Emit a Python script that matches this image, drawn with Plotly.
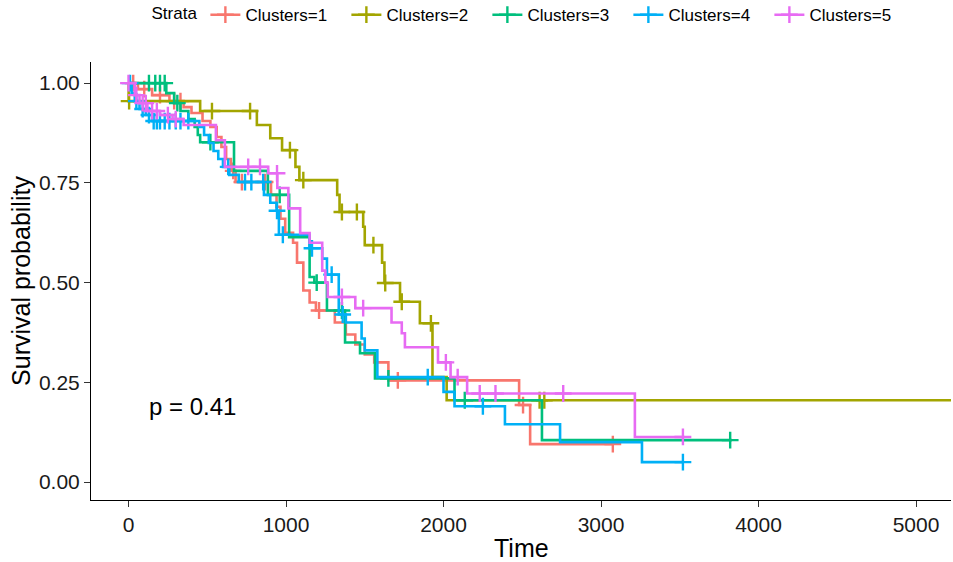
import numpy as np
import plotly.graph_objects as go

# ---------------- data ----------------
strata = ["Clusters=1", "Clusters=2", "Clusters=3", "Clusters=4", "Clusters=5"]
colors = ["#F8766D", "#A3A500", "#00BF7D", "#00B0F6", "#E76BF3"]

c1_time = [0, 60, 150, 260, 350, 400, 470, 520, 560, 590, 620, 650, 680, 905, 940, 965, 995, 1045, 1070,
           1110, 1150, 1190, 1310, 1380, 1440, 1500, 1560, 1650, 2480, 2550, 3080]
c1_surv = [1.0, 0.985, 0.97, 0.955, 0.94, 0.925, 0.905, 0.89, 0.865, 0.84, 0.81, 0.78, 0.752, 0.72, 0.69,
           0.66, 0.625, 0.60, 0.55, 0.48, 0.45, 0.43, 0.40, 0.37, 0.345, 0.32, 0.30, 0.255, 0.193, 0.095, 0.095]
c1_cens = [30, 100, 200, 290, 330, 665, 720, 867, 1210, 1710, 2505, 3075]

c2_time = [0, 1, 455, 815, 900, 975, 1060, 1085, 1325, 1340, 1490, 1500, 1610, 1625, 1724, 1850, 1930, 2020, 5300]
c2_surv = [1.0, 0.955, 0.93, 0.895, 0.862, 0.832, 0.79, 0.757, 0.72, 0.677, 0.64, 0.594, 0.55, 0.499,
           0.452, 0.398, 0.263, 0.205, 0.205]
c2_cens = [4, 530, 772, 1025, 1110, 1355, 1450, 1555, 1630, 1735, 1920, 2610, 2640]

c3_time = [0, 240, 290, 330, 380, 420, 440, 455, 670, 885, 1020, 1150, 1180, 1260, 1375, 1470, 1565,
           2070, 2625, 3830]
c3_surv = [1.0, 0.975, 0.95, 0.93, 0.91, 0.89, 0.87, 0.852, 0.78, 0.72, 0.614, 0.514, 0.50, 0.43, 0.35,
           0.323, 0.26, 0.205, 0.105, 0.105]
c3_cens = [130, 170, 200, 230, 310, 520, 960, 1195, 1355, 1650, 2135, 3820]

c4_time = [0, 20, 40, 70, 110, 150, 450, 480, 510, 540, 570, 600, 640, 700, 860, 900, 940, 955, 1150,
           1230, 1260, 1335, 1380, 1480, 1500, 1580, 2000, 2070, 2390, 2740, 3260, 3520]
c4_surv = [1.0, 0.975, 0.955, 0.935, 0.92, 0.905, 0.89, 0.87, 0.85, 0.83, 0.81, 0.79, 0.77, 0.752, 0.72,
           0.70, 0.68, 0.62, 0.586, 0.56, 0.52, 0.42, 0.40, 0.36, 0.33, 0.263, 0.226, 0.19, 0.145, 0.10,
           0.05, 0.05]
c4_cens = [10, 50, 90, 130, 160, 180, 200, 230, 260, 300, 330, 380, 633, 740, 780, 855, 943, 980, 1165,
           1290, 1360, 1900, 2250, 3520]

c5_time = [0, 40, 70, 120, 200, 280, 350, 555, 612, 887, 945, 1015, 1090, 1150, 1230, 1250, 1265, 1440,
           1670, 1735, 1755, 1965, 2045, 2150, 3215, 3530]
c5_surv = [1.0, 0.97, 0.95, 0.93, 0.92, 0.91, 0.895, 0.857, 0.79, 0.774, 0.737, 0.686, 0.624, 0.60, 0.53,
           0.50, 0.464, 0.436, 0.40, 0.373, 0.338, 0.30, 0.263, 0.222, 0.113, 0.113]
c5_cens = [0, 50, 90, 110, 150, 180, 250, 300, 760, 835, 943, 1355, 1490, 2015, 2090, 2230, 2330, 2760, 3520]

p_text = "p = 0.41"
x_title = "Time"
y_title = "Survival probability"
y_ticks = [0.0, 0.25, 0.5, 0.75, 1.0]
x_ticks = [0, 1000, 2000, 3000, 4000, 5000]

times = [c1_time, c2_time, c3_time, c4_time, c5_time]
survs = [c1_surv, c2_surv, c3_surv, c4_surv, c5_surv]
cens = [c1_cens, c2_cens, c3_cens, c4_cens, c5_cens]

FONT = "Liberation Sans, Arial, sans-serif"
LW = 2.6

fig = go.Figure()
for name, col, t, s, c in zip(strata, colors, times, survs, cens):
    t_arr = np.array(t)
    s_arr = np.array(s)
    idx = np.searchsorted(t_arr, np.array(c), side="right") - 1
    c_surv = s_arr[idx]
    fig.add_trace(go.Scatter(x=t, y=s, mode="lines", line=dict(color=col, width=LW, shape="hv"),
                             showlegend=False, hoverinfo="skip"))
    fig.add_trace(go.Scatter(x=c, y=c_surv, mode="markers",
                             marker=dict(symbol="cross-thin", size=12, color=col,
                                         line=dict(color=col, width=2.4)),
                             showlegend=False, hoverinfo="skip"))
    # legend key
    fig.add_trace(go.Scatter(x=[None], y=[None], mode="lines+markers", name=name,
                             line=dict(color=col, width=LW),
                             marker=dict(symbol="cross-thin", size=12, color=col,
                                         line=dict(color=col, width=2.4))))

fig.add_annotation(x=117, y=0.19, xref="x", yref="y", text=p_text, showarrow=False,
                   xanchor="left", yanchor="middle", font=dict(size=24, color="black", family=FONT))
fig.add_annotation(x=0.5, y=-0.109, xref="paper", yref="paper", text=x_title, showarrow=False,
                   xanchor="center", yanchor="middle", font=dict(size=25, color="black", family=FONT))
fig.add_annotation(x=-0.0815, y=0.5, xref="paper", yref="paper", text=y_title, showarrow=False,
                   textangle=-90, xanchor="center", yanchor="middle",
                   font=dict(size=25, color="black", family=FONT))

fig.update_layout(
    width=953, height=562,
    margin=dict(l=91, r=2, t=62, b=62, autoexpand=False),
    paper_bgcolor="white", plot_bgcolor="white",
    font=dict(family=FONT, color="black"),
    legend=dict(orientation="h", x=0.068, xanchor="left", y=1.107, yanchor="middle",
                title=dict(text="Strata", side="left", font=dict(size=17)),
                font=dict(size=17), entrywidth=96, entrywidthmode="pixels",
                bgcolor="rgba(0,0,0,0)"),
)
fig.update_xaxes(range=[-238, 5222], tickvals=x_ticks, ticktext=[str(v) for v in x_ticks],
                 automargin=False,
                 showgrid=False, zeroline=False, showline=True, linecolor="black", linewidth=1,
                 ticks="outside", ticklen=6, tickcolor="#333333",
                 tickfont=dict(size=21, color="#1a1a1a"))
fig.update_yaxes(range=[-0.045, 1.053], tickvals=y_ticks, ticktext=[f"{v:.2f}" for v in y_ticks],
                 automargin=False,
                 showgrid=False, zeroline=False, showline=True, linecolor="black", linewidth=1,
                 ticks="outside", ticklen=6, tickcolor="#333333",
                 tickfont=dict(size=21, color="#1a1a1a"))

fig.write_html("out.html", config={"displayModeBar": False},
               post_script="document.body.style.margin='0px';")
